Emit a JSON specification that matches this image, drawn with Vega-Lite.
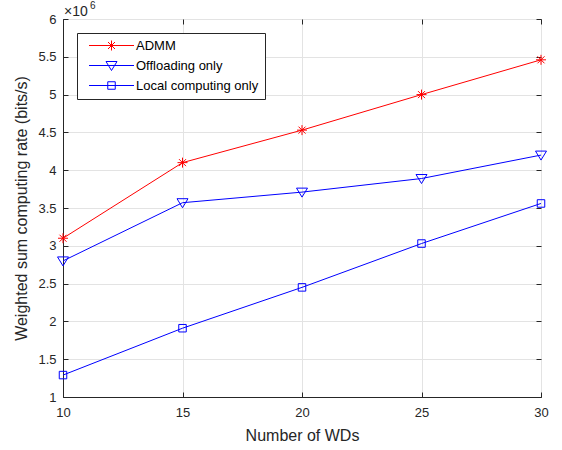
{
  "$schema": "https://vega.github.io/schema/vega-lite/v6.json",
  "width": 478,
  "height": 378,
  "autosize": "none",
  "padding": {"left": 63, "top": 19, "right": 21, "bottom": 53},
  "data": {"values": [
    {"wds": 10, "series": "ADMM", "rate": 3100000},
    {"wds": 15, "series": "ADMM", "rate": 4100000},
    {"wds": 20, "series": "ADMM", "rate": 4530000},
    {"wds": 25, "series": "ADMM", "rate": 5000000},
    {"wds": 30, "series": "ADMM", "rate": 5460000},
    {"wds": 10, "series": "Offloading only", "rate": 2800000},
    {"wds": 15, "series": "Offloading only", "rate": 3570000},
    {"wds": 20, "series": "Offloading only", "rate": 3710000},
    {"wds": 25, "series": "Offloading only", "rate": 3890000},
    {"wds": 30, "series": "Offloading only", "rate": 4200000},
    {"wds": 10, "series": "Local computing only", "rate": 1290000},
    {"wds": 15, "series": "Local computing only", "rate": 1910000},
    {"wds": 20, "series": "Local computing only", "rate": 2450000},
    {"wds": 25, "series": "Local computing only", "rate": 3030000},
    {"wds": 30, "series": "Local computing only", "rate": 3560000}
  ]},
  "config": {
    "view": {"stroke": "#262626", "strokeWidth": 1},
    "font": "Liberation Sans",
    "axis": {
      "labelFont": "Liberation Sans", "labelFontSize": 13, "labelColor": "#262626",
      "titleFont": "Liberation Sans", "titleFontSize": 16, "titleFontWeight": "normal", "titleColor": "#262626",
      "gridColor": "#e3e3e3", "gridWidth": 1,
      "domainColor": "#262626", "tickColor": "#262626", "tickSize": -5
    }
  },
  "encoding": {
    "x": {"field": "wds", "type": "quantitative",
      "scale": {"domain": [10, 30], "nice": false},
      "axis": {"title": "Number of WDs", "values": [10, 15, 20, 25, 30], "labelPadding": 14, "titlePadding": 8, "labelFlush": false}},
    "y": {"field": "rate", "type": "quantitative",
      "scale": {"domain": [1000000, 6000000], "nice": false, "zero": false},
      "axis": {"title": "Weighted sum computing rate (bits/s)", "values": [1000000, 1500000, 2000000, 2500000, 3000000, 3500000, 4000000, 4500000, 5000000, 5500000, 6000000],
        "labelExpr": "datum.value / 1000000 + ''", "labelPadding": 12, "titlePadding": 8}},
    "color": {"field": "series", "type": "nominal",
      "scale": {"domain": ["ADMM", "Offloading only", "Local computing only"], "range": ["#ff0000", "#0000ff", "#0000ff"]},
      "legend": null}
  },
  "layer": [
    {"mark": {"type": "line", "strokeWidth": 1}},
    {"mark": {"type": "point", "filled": false, "size": 100, "strokeWidth": 1, "opacity": 1},
      "encoding": {
        "x": {"field": "wds", "type": "quantitative", "axis": null},
        "y": {"field": "rate", "type": "quantitative", "axis": null},
        "shape": {"field": "series", "type": "nominal",
        "scale": {"domain": ["ADMM", "Offloading only", "Local computing only"],
          "range": ["M-1,0H1M0,-1V1M-0.7,-0.7L0.7,0.7M-0.7,0.7L0.7,-0.7", "M-1.1,-0.8H1.1L0,1Z", "M-0.75,-0.75H0.75V0.75H-0.75Z"]},
        "legend": null}}},
    {"mark": {"type": "point", "filled": false, "size": 100, "strokeWidth": 1, "opacity": 0},
      "encoding": {
        "x": {"field": "wds", "type": "quantitative",
          "axis": {"orient": "top", "title": null, "labels": false, "domain": false, "grid": false, "values": [10, 15, 20, 25, 30]}},
        "y": {"field": "rate", "type": "quantitative",
          "axis": {"orient": "right", "title": null, "labels": false, "domain": false, "grid": false, "values": [1000000, 1500000, 2000000, 2500000, 3000000, 3500000, 4000000, 4500000, 5000000, 5500000, 6000000]}},
        "color": {"field": "series", "type": "nominal",
          "scale": {"domain": ["ADMM", "Offloading only", "Local computing only"], "range": ["#ff0000", "#0000ff", "#0000ff"]},
          "legend": {"title": null}},
        "shape": {"field": "series", "type": "nominal",
        "scale": {"domain": ["ADMM", "Offloading only", "Local computing only"],
          "range": ["M-4.5,0H4.5M0,-1V1M-0.7,-0.7L0.7,0.7M-0.7,0.7L0.7,-0.7", "M-4.5,0H4.5M-1.1,-0.8H1.1L0,1ZM0,0", "M-4.5,0H4.5M-0.75,-0.75H0.75V0.75H-0.75Z"]},
        "legend": {"title": null, "orient": "top-left", "offset": 14, "padding": 6,
          "strokeColor": "#262626", "fillColor": "white",
          "labelFont": "Liberation Sans", "labelFontSize": 13, "labelColor": "#000000",
          "symbolSize": 100, "symbolStrokeWidth": 1, "symbolOffset": 22, "labelOffset": 18, "rowPadding": 6,
          "symbolOpacity": 1, "symbolFillColor": "transparent"}}}},
    {"transform": [{"filter": "datum.wds == 10 && datum.series == 'ADMM'"}],
      "mark": {"type": "text", "text": "×10", "align": "left", "baseline": "alphabetic", "dx": 1, "dy": -3, "fontSize": 14, "fontWeight": "normal", "font": "Liberation Sans", "color": "#262626"},
      "encoding": {
        "x": {"datum": 10, "type": "quantitative", "axis": null},
        "y": {"datum": 6000000, "type": "quantitative", "axis": null},
        "color": null}},
    {"transform": [{"filter": "datum.wds == 10 && datum.series == 'ADMM'"}],
      "mark": {"type": "text", "text": "6", "align": "left", "baseline": "alphabetic", "dx": 27, "dy": -10, "fontSize": 10, "fontWeight": "normal", "font": "Liberation Sans", "color": "#262626"},
      "encoding": {
        "x": {"datum": 10, "type": "quantitative", "axis": null},
        "y": {"datum": 6000000, "type": "quantitative", "axis": null},
        "color": null}}
  ],
  "resolve": {"scale": {"shape": "independent", "color": "independent"}, "axis": {"x": "independent", "y": "independent"}}
}
